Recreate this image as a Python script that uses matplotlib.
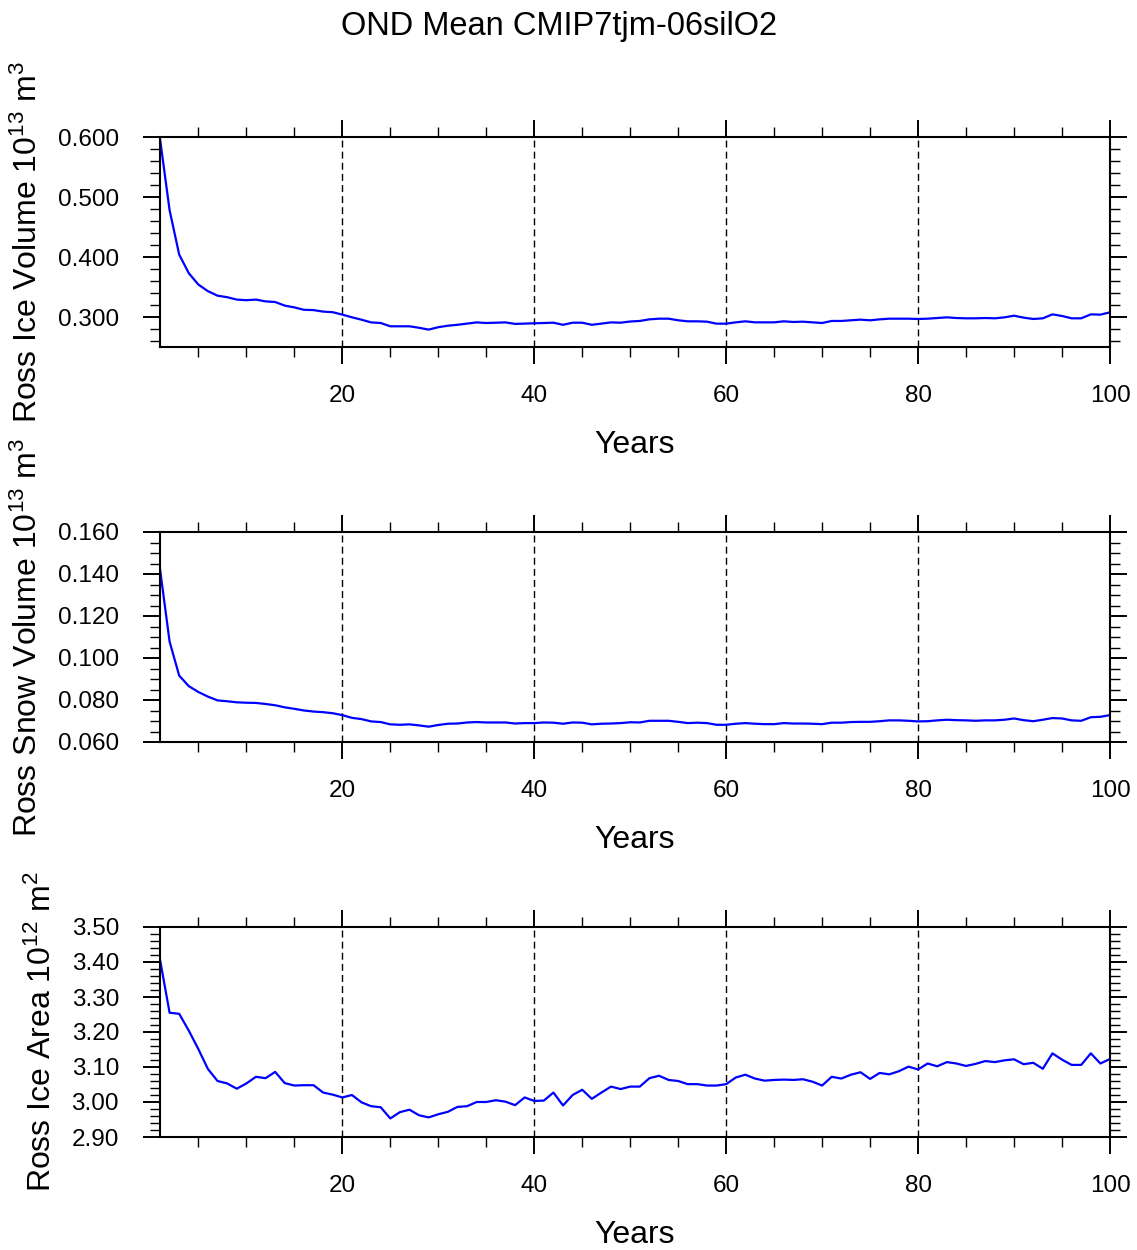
import matplotlib
matplotlib.use("Agg")
import matplotlib.pyplot as plt
from matplotlib.ticker import MultipleLocator, FormatStrFormatter
import numpy as np

plt.rcParams['font.family'] = ['Liberation Sans', 'DejaVu Sans']
plt.rcParams['mathtext.default'] = 'regular'

title = "OND Mean CMIP7tjm-06silO2"
xlabel = "Years"
years = list(range(1, 101))

ice_volume = [
    0.597, 0.478, 0.404, 0.373, 0.354, 0.343, 0.3355, 0.333, 0.329, 0.328,
    0.329, 0.326, 0.325, 0.319, 0.316, 0.312, 0.3115, 0.309, 0.308, 0.304,
    0.2995, 0.2955, 0.291, 0.290, 0.2845, 0.2845, 0.2845, 0.282, 0.279, 0.283,
    0.2855, 0.287, 0.289, 0.291, 0.290, 0.2905, 0.291, 0.2885, 0.289, 0.2895,
    0.290, 0.2905, 0.287, 0.2905, 0.2905, 0.287, 0.289, 0.291, 0.2905, 0.2925,
    0.2934, 0.2961, 0.2972, 0.2972, 0.2945, 0.2928, 0.2928, 0.2922, 0.2889, 0.2889,
    0.2911, 0.2928, 0.2911, 0.2911, 0.2911, 0.2928, 0.2917, 0.2922, 0.2911, 0.2900,
    0.2934, 0.2934, 0.2945, 0.2956, 0.2945, 0.2961, 0.2972, 0.2972, 0.2972, 0.2967,
    0.2972, 0.2983, 0.2994, 0.2983, 0.2978, 0.2978, 0.2983, 0.2978, 0.2994, 0.3022,
    0.2989, 0.2967, 0.2978, 0.3044, 0.3017, 0.2978, 0.2978, 0.3044, 0.3039, 0.3078,
]

snow_volume = [
    0.1424, 0.1078, 0.0916, 0.0866, 0.0838, 0.0816, 0.0798, 0.0794, 0.0789, 0.0787,
    0.0786, 0.0781, 0.0775, 0.0765, 0.0758, 0.0750, 0.0745, 0.0742, 0.0737, 0.0728,
    0.0715, 0.0709, 0.0698, 0.0695, 0.0684, 0.0682, 0.0684, 0.0679, 0.0673, 0.0681,
    0.0687, 0.0688, 0.0693, 0.0695, 0.0693, 0.0693, 0.0693, 0.0688, 0.0690, 0.0690,
    0.0693, 0.0692, 0.0687, 0.0693, 0.0692, 0.0684, 0.0687, 0.0688, 0.0690, 0.0694,
    0.0693, 0.0701, 0.0701, 0.0701, 0.0696, 0.0690, 0.0692, 0.0690, 0.0682, 0.0682,
    0.0687, 0.0690, 0.0687, 0.0685, 0.0685, 0.0690, 0.0688, 0.0688, 0.0687, 0.0685,
    0.0692, 0.0692, 0.0695, 0.0696, 0.0696, 0.0699, 0.0703, 0.0703, 0.0701, 0.0698,
    0.0699, 0.0703, 0.0706, 0.0704, 0.0703, 0.0701, 0.0703, 0.0703, 0.0706, 0.0712,
    0.0704, 0.0699, 0.0706, 0.0714, 0.0712, 0.0703, 0.0701, 0.0718, 0.0720, 0.0728,
]

ice_area = [
    3.407, 3.255, 3.252, 3.204, 3.151, 3.094, 3.060, 3.053, 3.038, 3.053,
    3.072, 3.068, 3.086, 3.054, 3.047, 3.048, 3.048, 3.027, 3.021, 3.013,
    3.020, 2.999, 2.988, 2.985, 2.953, 2.971, 2.978, 2.962, 2.956, 2.965,
    2.972, 2.986, 2.988, 3.000, 3.000, 3.005, 3.001, 2.991, 3.013, 3.003,
    3.004, 3.027, 2.990, 3.020, 3.035, 3.009, 3.027, 3.044, 3.037, 3.044,
    3.044, 3.068, 3.075, 3.063, 3.060, 3.051, 3.051, 3.047, 3.047, 3.051,
    3.070, 3.078, 3.067, 3.061, 3.063, 3.064, 3.063, 3.065, 3.058, 3.047,
    3.072, 3.067, 3.078, 3.085, 3.066, 3.083, 3.079, 3.088, 3.101, 3.093,
    3.110, 3.102, 3.114, 3.110, 3.103, 3.109, 3.117, 3.114, 3.119, 3.122,
    3.108, 3.112, 3.095, 3.139, 3.121, 3.106, 3.106, 3.139, 3.110, 3.123,
]

ylabels = [
    r"Ross Ice Volume 10$^{13}$ m$^{3}$",
    r"Ross Snow Volume 10$^{13}$ m$^{3}$",
    r"Ross Ice Area 10$^{12}$ m$^{2}$",
]
series = [ice_volume, snow_volume, ice_area]
ylims = [(0.25, 0.60), (0.06, 0.16), (2.90, 3.50)]
ymajor = [0.1, 0.02, 0.1]
yminor = [0.02, 0.005, 0.02]
yfmt = ["%.3f", "%.3f", "%.2f"]

W, H = 1137, 1250
fig = plt.figure(figsize=(W / 100, H / 100), dpi=100)

left_px, right_px = 160, 1110
tops_px = [137, 532, 927]
height_px = 210
label_x_px = [37, 37, 51]

for i in range(3):
    top = tops_px[i]
    ax = fig.add_axes([left_px / W, 1 - (top + height_px) / H,
                       (right_px - left_px) / W, height_px / H])
    ax.plot(years, series[i], color=(0, 0, 1), lw=1.6, zorder=3)
    ax.set_xlim(1, 100)
    ax.set_ylim(*ylims[i])
    ax.xaxis.set_major_locator(MultipleLocator(20))
    ax.xaxis.set_minor_locator(MultipleLocator(5))
    ax.yaxis.set_major_locator(MultipleLocator(ymajor[i]))
    ax.yaxis.set_minor_locator(MultipleLocator(yminor[i]))
    ax.yaxis.set_major_formatter(FormatStrFormatter(yfmt[i]))
    ax.tick_params(which='both', direction='out', top=True, right=True,
                   color='black')
    ax.tick_params(which='major', length=12.5, width=1.4, labelsize=17.5)
    ax.tick_params(axis='x', which='major', pad=15)
    ax.tick_params(axis='y', which='major', pad=17)
    ax.tick_params(which='minor', length=7.5, width=1.0)
    for s in ax.spines.values():
        s.set_linewidth(1.5)
        s.set_zorder(4)
    ax.xaxis.grid(True, which='major', color='black', lw=1.0,
                  linestyle=(0, (5, 3)), zorder=1)
    # x label
    fig.text((left_px + right_px) / 2 / W, 1 - (453 + 395 * i) / H, xlabel,
             ha='center', va='baseline', fontsize=23)
    # y label
    fig.text(label_x_px[i] / W, 1 - (top + height_px / 2) / H, ylabels[i],
             rotation=90, rotation_mode='anchor', ha='center', va='baseline',
             fontsize=23)

fig.text(559 / W, 1 - 35 / H, title, ha='center', va='baseline', fontsize=23.5)

fig.savefig("out.png", dpi=100)
